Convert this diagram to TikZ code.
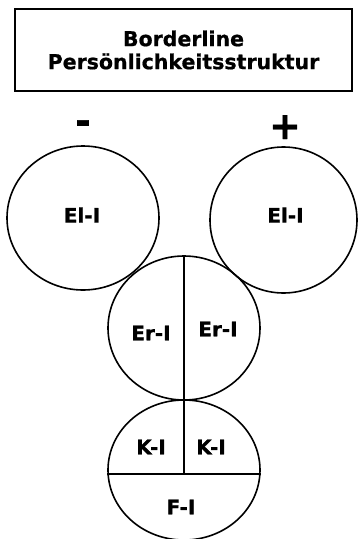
\documentclass[tikz,border=0pt]{standalone}
\usepackage{fontspec}
\setmainfont{DejaVu Sans}
\newfontfamily\heavyfont{DejaVu Sans Bold}[FakeBold=0.8]
\usetikzlibrary{positioning,shapes.geometric}
\tikzset{
titlebox/.style={draw, line width=1.6pt, align=center, minimum width=337pt, minimum height=82pt, inner sep=0pt, font=\heavyfont\fontsize{20.5}{23}\selectfont},
egoshape/.style={draw, ellipse, line width=1.6pt, inner sep=0pt, minimum width=152pt, minimum height=144pt},
egolabel/.style={font=\heavyfont\fontsize{20}{24}\selectfont, inner sep=0pt},
signlabel/.style={font=\heavyfont\fontsize{38}{40}\selectfont, inner sep=0pt, anchor=base},
divline/.style={line width=1.4pt}
}

\begin{document}
\begin{tikzpicture}[x=1pt,y=-1pt]
\useasboundingbox (0,0) rectangle (357,539);
\node[titlebox] (title) at (183.5,50) {Borderline\\Persönlichkeitsstruktur};
\node[signlabel] (minus) at (83,134) {-};
\node[signlabel] (plus) at (285,139) {+};

% the four ego circles
\node[egoshape] (elneg) at (83,218) {};
\node[egoshape, minimum width=147pt, minimum height=146pt] (elpos) at (283.5,220) {};
\node[egoshape] (er) at (184,328) {};
\node[egoshape, minimum height=140pt] (fi) at (184,470) {};

% dividers
\coordinate (split) at ([yshift=-4pt]fi.center);
\draw[divline] (er.north) -- (split);
\draw[divline, line width=1.8pt] (fi.west |- split) -- (fi.east |- split);

\node[egolabel] (elnegtext) at (82,215) {El-I};
\node[egolabel] (elpostext) at (285.5,215) {El-I};
\node[egolabel] (erleft) at (151,333) {Er-I};
\node[egolabel] (erright) at (218,329) {Er-I};
\node[egolabel] (kleft) at (151,447) {K-I};
\node[egolabel] (kright) at (211,447) {K-I};
\node[egolabel] (ftext) at (181,507) {F-I};
\end{tikzpicture}
\end{document}
